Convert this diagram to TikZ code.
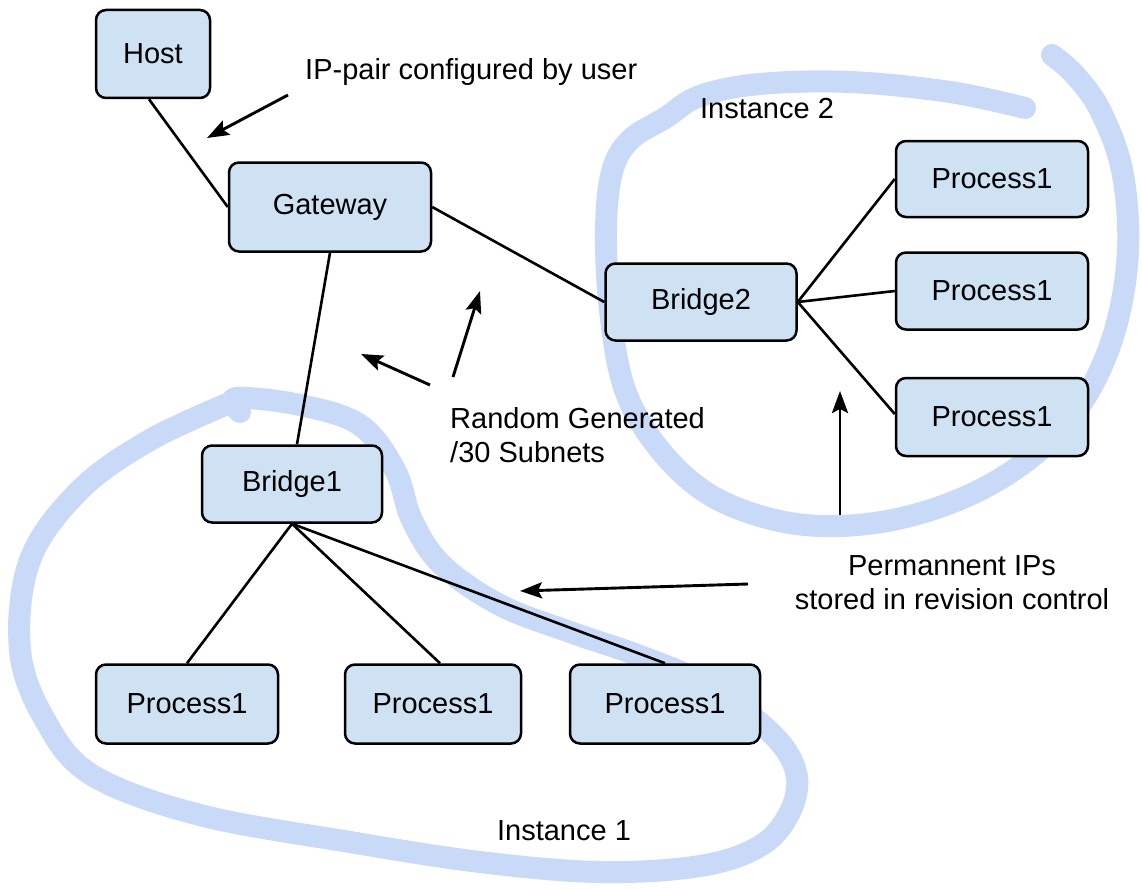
\documentclass[tikz,border=0pt]{standalone}
\usepackage{fontspec}
\setmainfont{Liberation Sans}
\usetikzlibrary{arrows.meta}
\definecolor{boxfill}{RGB}{207,226,243}
\definecolor{strokeblue}{RGB}{201,218,248}
\begin{document}
\begin{tikzpicture}[x=1pt,y=-1pt,
  box/.style={draw=black, fill=boxfill, line width=2.5pt, rounded corners=10pt, inner sep=0pt,
    font=\fontsize{29}{34}\selectfont},
  link/.style={draw=black, line width=2.6pt},
  arr/.style={draw=black, line width=2.9pt, -{Stealth[length=22pt,width=16pt,inset=4pt]}},
  lbl/.style={inner sep=0pt, font=\fontsize{29}{34}\selectfont},
  hand/.style={draw=strokeblue, line width=22pt, line cap=round, line join=round}]
\useasboundingbox (0,0) rectangle (1142,888);
\fill[white] (0,0) rectangle (1142,888);
% hand drawn outlines
\draw[hand] plot[smooth, tension=0.6] coordinates {
  (1025,108) (950,92) (850,82) (760,84) (700,96) (665,118) (630,140) (612,172)
  (606,230) (610,310) (625,390) (660,450) (710,495) (775,520) (840,526)
  (910,516) (980,490) (1040,450) (1085,398) (1115,330) (1128,250) (1122,170)
  (1100,110) (1075,75) (1052,55)};
\draw[hand] plot[smooth, tension=0.6] coordinates {
  (240,412) (236,398) (300,405) (360,425) (395,470) (412,520) (442,565)
  (500,605) (570,632) (640,656) (705,684) (770,732) (796,772) (790,812)
  (760,846) (700,866) (600,872) (480,862) (350,842) (200,815) (92,775)
  (45,720) (20,650) (30,560) (80,490) (150,440) (232,402)};
% nodes
\node[box, minimum width=114pt, minimum height=88pt] (host) at (153,54) {Host};
\node[box, minimum width=202pt, minimum height=89pt] (gw) at (330,207) {Gateway};
\node[box, minimum width=191pt, minimum height=77pt] (b2) at (701,302) {Bridge2};
\node[box, minimum width=192pt, minimum height=76pt] (p21) at (992,179) {Process1};
\node[box, minimum width=192pt, minimum height=77pt] (p22) at (992,291) {Process1};
\node[box, minimum width=192pt, minimum height=78pt] (p23) at (992,417) {Process1};
\node[box, minimum width=180pt, minimum height=77pt] (b1) at (292,484) {Bridge1};
\node[box, minimum width=182pt, minimum height=79pt] (p11) at (187,704) {Process1};
\node[box, minimum width=176pt, minimum height=79pt] (p12) at (433,704) {Process1};
\node[box, minimum width=190pt, minimum height=79pt] (p13) at (665,704) {Process1};
% links
\draw[link] ([xshift=-4pt]host.south) -- (gw.west);
\draw[link] (gw.east) -- (b2.west);
\draw[link] (gw.south) -- ([xshift=5pt]b1.north);
\draw[link] (b2.east) -- (p21.west);
\draw[link] (b2.east) -- (p22.west);
\draw[link] (b2.east) -- ([yshift=3pt]p23.west);
\draw[link] (b1.south) -- (p11.north);
\draw[link] (b1.south) -- ([xshift=7pt]p12.north);
\draw[link] (b1.south) -- (p13.north);
% labels
\node[lbl, anchor=base west] (ipl) at (305,80) {IP-pair configured by user};
\node[lbl, anchor=base] (i2) at (767,118) {Instance 2};
\node[lbl, anchor=base west, align=left] (rnd) at (450,462) {Random Generated\\/30 Subnets};
\node[lbl, anchor=base, align=center] (perm) at (952,609) {Permannent IPs\\stored in revision control};
\node[lbl, anchor=base] (i1) at (564,840) {Instance 1};
% arrows
\coordinate (a1s) at (288,95); \coordinate (a1e) at (207,138);
\coordinate (a2s) at (430,385); \coordinate (a2e) at (361,354);
\coordinate (a3s) at (453,377); \coordinate (a3e) at (480,291);
\coordinate (a4s) at (840,515); \coordinate (a4e) at (840,391);
\coordinate (a5s) at (748,584); \coordinate (a5e) at (520,591);
\draw[arr] (a1s) -- (a1e);
\draw[arr] (a2s) -- (a2e);
\draw[arr] (a3s) -- (a3e);
\draw[arr] (a4s) -- (a4e);
\draw[arr] (a5s) -- (a5e);
\end{tikzpicture}
\end{document}
